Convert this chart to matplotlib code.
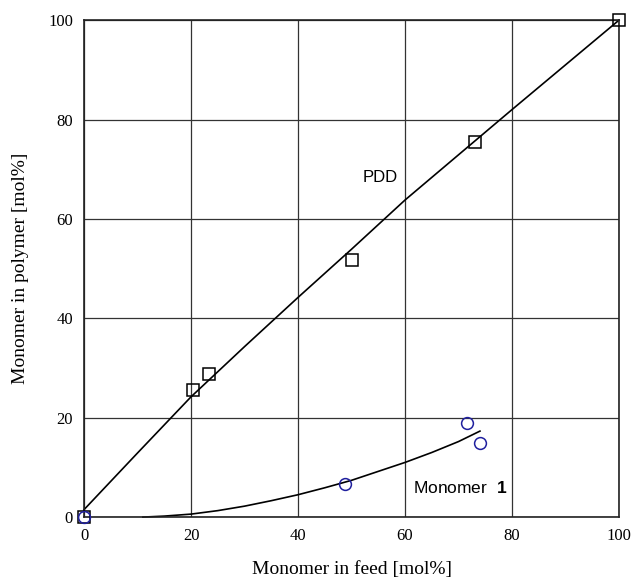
import matplotlib.pyplot as plt

plt.rcParams["mathtext.fontset"] = "custom"
plt.rcParams["mathtext.rm"] = "Liberation Sans"
plt.rcParams["mathtext.bf"] = "Liberation Sans:bold"

# PDD copolymer composition data
pdd_feed = [0, 20.3, 23.3, 50.0, 73.0, 100.0]
pdd_poly = [0, 25.5, 28.7, 51.8, 75.5, 100.0]
pdd_fit_x = [0, 10, 20, 30, 40, 50, 60, 70, 80, 90, 100]
pdd_fit_y = [1.5, 12.9, 24.2, 34.3, 44.2, 53.9, 63.8, 72.9, 82.0, 91.0, 100]

# Monomer 1 data
m1_feed = [0, 48.8, 71.6, 74.0]
m1_poly = [0, 6.6, 19.0, 15.0]
m1_fit_x = [11, 15, 20, 25, 30, 35, 40, 45, 50, 55, 60, 65, 70, 74]
m1_fit_y = [0, 0.2, 0.6, 1.3, 2.2, 3.3, 4.5, 5.9, 7.4, 9.2, 11.0, 13.0, 15.2, 17.3]

ticks = [0, 20, 40, 60, 80, 100]

fig = plt.figure(figsize=(6.38, 5.81), dpi=100)
ax = fig.add_axes([0.1317, 0.110, 0.8386, 0.8554])

ax.plot(pdd_fit_x, pdd_fit_y, color="black", linewidth=1.2, clip_on=False)
ax.plot(m1_fit_x, m1_fit_y, color="black", linewidth=1.2, clip_on=False)
ax.plot(pdd_feed, pdd_poly, linestyle="none", marker="s", markersize=9,
        markerfacecolor="none", markeredgecolor="black", markeredgewidth=1.1,
        clip_on=False, zorder=3)
ax.plot(m1_feed, m1_poly, linestyle="none", marker="o", markersize=8.5,
        markerfacecolor="none", markeredgecolor="#1f1f9e", markeredgewidth=1.1,
        clip_on=False, zorder=3)

ax.text(55.3, 68.4, "PDD", family="Liberation Sans", fontsize=12,
        ha="center", va="center")
ax.text(61.5, 5.8, r"Monomer  $\mathbf{1}$", family="Liberation Sans",
        fontsize=12.5, ha="left", va="center")

ax.set_xlim(0, 100)
ax.set_ylim(0, 100)
ax.set_xticks(ticks)
ax.set_yticks(ticks)
ax.grid(True, color="#333333", linewidth=0.9)
ax.set_axisbelow(True)
ax.tick_params(length=0, pad=8, labelsize=12)
for lab in ax.get_xticklabels() + ax.get_yticklabels():
    lab.set_family("Liberation Serif")
for sp in ax.spines.values():
    sp.set_linewidth(1.2)
    sp.set_color("#222222")

ax.set_xlabel("Monomer in feed [mol%]", family="Liberation Serif",
              fontsize=14, labelpad=12)
ax.set_ylabel("Monomer in polymer [mol%]", family="Liberation Serif",
              fontsize=14, labelpad=14)

fig.savefig("out.png", dpi=100)
